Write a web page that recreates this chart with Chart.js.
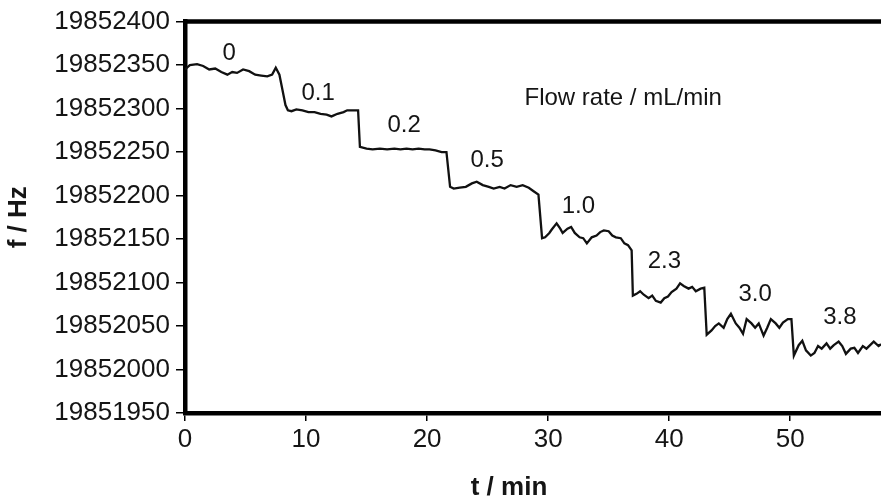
<!DOCTYPE html>
<html>
<head>
<meta charset="utf-8">
<style>
  html, body { margin: 0; padding: 0; background: #fff; overflow: hidden; }
  #wrap { width: 881px; height: 498px; }
</style>
<script src="https://cdn.jsdelivr.net/npm/chart.js@4/dist/chart.umd.min.js"></script>
</head>
<body>
<div id="wrap"><canvas id="c" width="881" height="498"></canvas></div>
<script>
// Elapsed time (min)
const timeMin = [
  0, 0.4, 1.0, 1.5, 2.0, 2.5, 3.0, 3.5, 3.9, 4.3, 4.8, 5.3, 5.8, 6.3, 6.8, 7.2, 7.5, 7.8, 8.0, 8.3, 8.5, 8.8,
  9.2, 9.7, 10.2, 10.7, 11.2, 11.7, 12.1, 12.6, 13.1, 13.4, 13.9, 14.3, 14.45,
  15.0, 15.5, 16.1, 16.7, 17.3, 17.8, 18.3, 18.8, 19.3, 19.8, 20.2, 20.7, 21.2, 21.6, 21.9,
  22.2, 22.7, 23.2, 23.7, 24.1, 24.6, 25.1, 25.5, 26.0, 26.4, 26.9, 27.4, 27.9, 28.4, 28.8, 29.2, 29.5,
  29.75, 30.1, 30.3, 30.7, 31.0, 31.2, 31.6, 31.9, 32.2, 32.6, 32.9, 33.2, 33.6, 34.0, 34.3, 34.6, 35.0, 35.3, 35.6, 36.0, 36.3, 36.6, 36.9, 37.0,
  37.3, 37.6, 37.9, 38.3, 38.6, 38.9, 39.3, 39.6, 39.9, 40.2, 40.6, 40.9, 41.2, 41.6, 41.9, 42.2, 42.6, 42.9, 43.1,
  43.5, 43.8, 44.1, 44.5, 44.8, 45.1, 45.5, 45.8, 46.1, 46.4, 46.8, 47.1, 47.4, 47.8, 48.1, 48.4, 48.8, 49.1, 49.4, 49.8, 50.1, 50.3,
  50.7, 51.0, 51.3, 51.7, 52.0, 52.3, 52.6, 53.0, 53.3, 53.6, 54.0, 54.3, 54.6, 55.0, 55.3, 55.6, 56.0, 56.3, 56.6, 56.9, 57.3, 57.5
];

// Resonance frequency (Hz)
const freqHz = [
  19852345, 19852350, 19852351, 19852349, 19852345, 19852346, 19852342, 19852339, 19852342, 19852341, 19852345, 19852343, 19852339, 19852338, 19852337, 19852339, 19852347, 19852339, 19852325, 19852304, 19852298, 19852297,
  19852299, 19852298, 19852296, 19852296, 19852294, 19852293, 19852291, 19852294, 19852296, 19852298, 19852298, 19852298, 19852256,
  19852254, 19852253, 19852254, 19852253, 19852254, 19852253, 19852254, 19852253, 19852254, 19852253, 19852253, 19852252, 19852250, 19852250, 19852210,
  19852208, 19852209, 19852210, 19852214, 19852216, 19852212, 19852210, 19852208, 19852210, 19852208, 19852212, 19852210, 19852212, 19852209, 19852205, 19852201, 19852151,
  19852152, 19852157, 19852161, 19852168, 19852162, 19852157, 19852162, 19852164, 19852157, 19852152, 19852151, 19852145, 19852152, 19852154, 19852158, 19852160, 19852159, 19852154, 19852152, 19852151, 19852145, 19852143, 19852137, 19852085,
  19852087, 19852090, 19852086, 19852082, 19852085, 19852079, 19852077, 19852082, 19852084, 19852089, 19852093, 19852099, 19852096, 19852093, 19852095, 19852090, 19852093, 19852094, 19852040,
  19852045, 19852050, 19852053, 19852048, 19852058, 19852064, 19852053, 19852048, 19852041, 19852058, 19852053, 19852048, 19852053, 19852039, 19852048, 19852058, 19852053, 19852048, 19852054, 19852058, 19852058, 19852016,
  19852028, 19852033, 19852022, 19852016, 19852019, 19852027, 19852024, 19852030, 19852024, 19852028, 19852032, 19852027, 19852018, 19852024, 19852025, 19852019, 19852027, 19852024, 19852028, 19852032, 19852027, 19852029
];

// Axis tick values
const timeTicks = [0, 10, 20, 30, 40, 50];
const freqTicks = [19851950, 19852000, 19852050, 19852100, 19852150, 19852200, 19852250, 19852300, 19852350, 19852400];

// Flow rate of each step (mL/min)
const flowRates = ['0', '0.1', '0.2', '0.5', '1.0', '2.3', '3.0', '3.8'];
// Where each flow-rate label sits, in axis units [t, f]
const flowLabelAt = [
  [3.64, 19852363], [11.0, 19852318], [18.1, 19852281], [24.96, 19852240],
  [32.5, 19852188], [39.6, 19852124], [47.1, 19852086], [54.1, 19852060]
];
const legendText = 'Flow rate / mL/min';
const legendAt = [36.2, 19852312];
const xTitle = 't / min';

const FONT = "'Liberation Sans', Arial, Helvetica, sans-serif";
const INK = '#151515';

const points = timeMin.map((t, i) => ({ x: t, y: freqHz[i] }));

const frameAndLabels = {
  id: 'frameAndLabels',
  afterDatasetsDraw(chart) {
    const { ctx, chartArea, scales } = chart;
    ctx.save();
    // top frame line
    ctx.strokeStyle = '#000';
    ctx.lineWidth = 4.5;
    ctx.beginPath();
    ctx.moveTo(chartArea.left - 2, chartArea.top);
    ctx.lineTo(chartArea.right + 2, chartArea.top);
    ctx.stroke();
    // step labels
    ctx.fillStyle = INK;
    ctx.font = `24px ${FONT}`;
    ctx.textAlign = 'center';
    ctx.textBaseline = 'middle';
    flowRates.forEach((txt, i) => {
      const [t, f] = flowLabelAt[i];
      ctx.fillText(txt, scales.x.getPixelForValue(t), scales.y.getPixelForValue(f));
    });
    ctx.fillText(legendText, scales.x.getPixelForValue(legendAt[0]), scales.y.getPixelForValue(legendAt[1]));
    // time axis title, set a little left of the plot centre
    ctx.font = `bold 26px ${FONT}`;
    ctx.textBaseline = 'alphabetic';
    ctx.fillText(xTitle, chartArea.left + 324, chartArea.bottom + 82);
    ctx.restore();
  }
};

new Chart(document.getElementById('c'), {
  type: 'line',
  data: {
    datasets: [{
      data: points,
      borderColor: '#111',
      borderWidth: 2.3,
      pointRadius: 0,
      tension: 0,
      fill: false
    }]
  },
  options: {
    responsive: false,
    animation: false,
    events: [],
    layout: { padding: { top: 19, left: 0, right: 0, bottom: 0 } },
    plugins: { legend: { display: false }, tooltip: { enabled: false } },
    scales: {
      x: {
        type: 'linear',
        min: 0,
        max: 57.5,
        afterBuildTicks: s => { s.ticks = timeTicks.map(v => ({ value: v })); },
        afterFit: s => { s.height = 85; },
        ticks: {
          color: INK,
          font: { family: FONT, size: 26 },
          padding: 3,
          maxRotation: 0,
          callback: v => String(v)
        },
        grid: { drawOnChartArea: false, drawTicks: true, tickLength: 8, color: '#000', lineWidth: 1.5 },
        border: { display: true, color: '#000', width: 4.5 },
        title: { display: false }
      },
      y: {
        type: 'linear',
        min: 19851950,
        max: 19852400,
        afterBuildTicks: s => { s.ticks = freqTicks.map(v => ({ value: v })); },
        afterFit: s => { s.width = 185; },
        ticks: {
          color: INK,
          font: { family: FONT, size: 26 },
          padding: 6,
          callback: v => String(v)
        },
        grid: { drawOnChartArea: false, drawTicks: true, tickLength: 9, color: '#000', lineWidth: 1.5 },
        border: { display: true, color: '#000', width: 4.5 },
        title: {
          display: true,
          text: 'f / Hz',
          color: INK,
          font: { family: FONT, size: 26, weight: 'bold', lineHeight: 1.0 },
          padding: { top: 6, bottom: 0 }
        }
      }
    }
  },
  plugins: [frameAndLabels]
});
</script>
</body>
</html>
